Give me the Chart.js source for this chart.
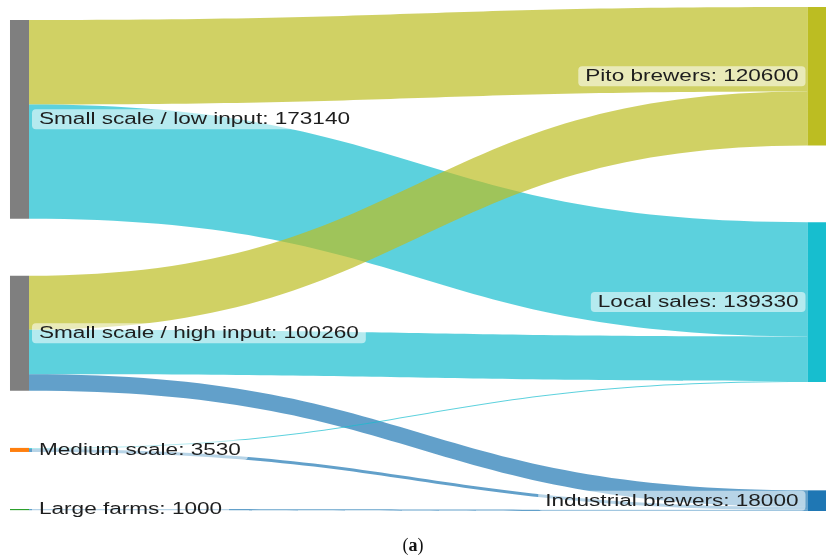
<!DOCTYPE html>
<html>
<head>
<meta charset="utf-8">
<script src="https://cdn.jsdelivr.net/npm/chart.js@4/dist/chart.umd.min.js"></script>
<style>
  html, body { margin: 0; padding: 0; background: #ffffff; }
  #wrap { position: relative; width: 826px; height: 558px; }
</style>
</head>
<body>
<div id="wrap"><canvas id="sankey" width="826" height="558"></canvas></div>
<script>
// Nodes of the sorghum flow diagram
const nodeNames = ['Small scale / low input', 'Small scale / high input', 'Medium scale', 'Large farms',
                   'Pito brewers', 'Local sales', 'Industrial brewers'];
const nodeColumns = [0, 0, 0, 0, 1, 1, 1];
const nodeColors = ['#7f7f7f', '#7f7f7f', '#ff7f0e', '#2ca02c', '#bcbd22', '#17becf', '#1f77b4'];

// Links (source index -> target index, value)
const linkSources = [0, 0, 1, 1, 1, 2, 2, 3];
const linkTargets = [4, 5, 4, 5, 6, 5, 6, 6];
const linkValues  = [73600, 99540, 47000, 38790, 14470, 1000, 2530, 1000];

// Vertical layout, in flow units
const layout = {
  nodeWidth: 19,
  columnTop: [11330, 0],
  columnGaps: [[49700, 49700, 49700], [66850, 94320]],
  yMax: 439100,
  linkAlpha: 0.7,
  labelScaleX: 1.41
};

// Node totals = max(inflow, outflow)
const nodeValues = nodeNames.map((_, i) => {
  let inV = 0, outV = 0;
  linkValues.forEach((v, k) => {
    if (linkSources[k] === i) outV += v;
    if (linkTargets[k] === i) inV += v;
  });
  return Math.max(inV, outV);
});

// Stack nodes in each column
const nodeTop = new Array(nodeNames.length).fill(0);
[0, 1].forEach(col => {
  let y = layout.columnTop[col];
  let g = 0;
  nodeNames.forEach((_, i) => {
    if (nodeColumns[i] !== col) return;
    nodeTop[i] = y;
    y += nodeValues[i] + (layout.columnGaps[col][g++] || 0);
  });
});

const nodeBars = nodeNames.map((_, i) => ({ x: nodeColumns[i], y: [nodeTop[i], nodeTop[i] + nodeValues[i]] }));

function hexToRgba(hex, a) {
  const n = parseInt(hex.slice(1), 16);
  return `rgba(${(n >> 16) & 255},${(n >> 8) & 255},${n & 255},${a})`;
}

function roundRect(ctx, x, y, w, h, r) {
  ctx.beginPath();
  ctx.moveTo(x + r, y);
  ctx.lineTo(x + w - r, y);
  ctx.quadraticCurveTo(x + w, y, x + w, y + r);
  ctx.lineTo(x + w, y + h - r);
  ctx.quadraticCurveTo(x + w, y + h, x + w - r, y + h);
  ctx.lineTo(x + r, y + h);
  ctx.quadraticCurveTo(x, y + h, x, y + h - r);
  ctx.lineTo(x, y + r);
  ctx.quadraticCurveTo(x, y, x + r, y);
  ctx.closePath();
}

const sankeyPlugin = {
  id: 'sankeyFlows',
  beforeDatasetsDraw(chart) {
    const { ctx, scales: { x, y } } = chart;
    const half = layout.nodeWidth / 2;
    // running offsets inside each node
    const outOff = nodeTop.slice();
    const inOff = nodeTop.slice();
    const outOrder = linkValues.map((_, k) => k)
      .sort((a, b) => linkSources[a] - linkSources[b] || nodeTop[linkTargets[a]] - nodeTop[linkTargets[b]]);
    const inOrder = linkValues.map((_, k) => k)
      .sort((a, b) => linkTargets[a] - linkTargets[b] || nodeTop[linkSources[a]] - nodeTop[linkSources[b]]);
    const sy = [], ty = [];
    outOrder.forEach(k => { sy[k] = outOff[linkSources[k]]; outOff[linkSources[k]] += linkValues[k]; });
    inOrder.forEach(k => { ty[k] = inOff[linkTargets[k]]; inOff[linkTargets[k]] += linkValues[k]; });

    ctx.save();
    linkValues.forEach((v, k) => {
      const s = linkSources[k], t = linkTargets[k];
      const x0 = x.getPixelForValue(nodeColumns[s]) + half;
      const x1 = x.getPixelForValue(nodeColumns[t]) - half;
      const xm = (x0 + x1) / 2;
      const s0 = y.getPixelForValue(sy[k]), s1 = y.getPixelForValue(sy[k] + v);
      const t0 = y.getPixelForValue(ty[k]), t1 = y.getPixelForValue(ty[k] + v);
      ctx.beginPath();
      ctx.moveTo(x0, s0);
      ctx.bezierCurveTo(xm, s0, xm, t0, x1, t0);
      ctx.lineTo(x1, t1);
      ctx.bezierCurveTo(xm, t1, xm, s1, x0, s1);
      ctx.closePath();
      ctx.fillStyle = hexToRgba(nodeColors[t], layout.linkAlpha);
      ctx.fill();
    });
    ctx.restore();
  },
  afterDatasetsDraw(chart) {
    const { ctx, scales: { x, y } } = chart;
    const half = layout.nodeWidth / 2;
    ctx.save();
    ctx.font = '16px "Liberation Sans", Arial, sans-serif';
    ctx.textBaseline = 'middle';
    nodeNames.forEach((name, i) => {
      const text = `${name}: ${nodeValues[i]}`;
      const w = ctx.measureText(text).width * layout.labelScaleX;
      const cy = y.getPixelForValue(nodeTop[i] + nodeValues[i] / 2);
      const cx = x.getPixelForValue(nodeColumns[i]);
      const padX = 7, h = 20;
      let bx;
      if (nodeColumns[i] === 0) bx = cx + half + 3;
      else bx = cx - half - 2 - (w + 2 * padX);
      roundRect(ctx, bx, cy - h / 2, w + 2 * padX, h, 4);
      ctx.fillStyle = 'rgba(255,255,255,0.55)';
      ctx.fill();
      ctx.save();
      ctx.translate(bx + padX, cy + 0.5);
      ctx.scale(layout.labelScaleX, 1);
      ctx.fillStyle = '#1e1e1e';
      ctx.textAlign = 'left';
      ctx.fillText(text, 0, 0);
      ctx.restore();
    });
    ctx.restore();
  },
  afterDraw(chart) {
    // figure caption "(a)"
    const { ctx } = chart;
    ctx.save();
    ctx.textBaseline = 'alphabetic';
    const fontN = '18px "Liberation Serif", "Times New Roman", serif';
    const fontB = 'bold 18px "Liberation Serif", "Times New Roman", serif';
    ctx.font = fontN; const wl = ctx.measureText('(').width, wr = ctx.measureText(')').width;
    ctx.font = fontB; const wa = ctx.measureText('a').width;
    let px = chart.width / 2 - (wl + wa + wr) / 2;
    const py = 551;
    ctx.fillStyle = '#111';
    ctx.font = fontN; ctx.fillText('(', px, py); px += wl;
    ctx.font = fontB; ctx.fillText('a', px, py); px += wa;
    ctx.font = fontN; ctx.fillText(')', px, py);
    ctx.restore();
  }
};

new Chart(document.getElementById('sankey'), {
  type: 'bar',
  data: {
    datasets: [{
      data: nodeBars,
      backgroundColor: nodeColors,
      borderWidth: 0,
      barThickness: layout.nodeWidth,
      inflateAmount: 0
    }]
  },
  options: {
    responsive: false,
    animation: false,
    layout: { padding: { top: 7, bottom: 47, left: 0, right: 0 } },
    plugins: { legend: { display: false }, tooltip: { enabled: false }, title: { display: false } },
    scales: {
      x: { type: 'linear', display: false, offset: false, min: -0.02445, max: 1.01129 },
      y: { type: 'linear', display: false, reverse: true, min: 0, max: layout.yMax }
    }
  },
  plugins: [sankeyPlugin]
});
</script>
</body>
</html>
